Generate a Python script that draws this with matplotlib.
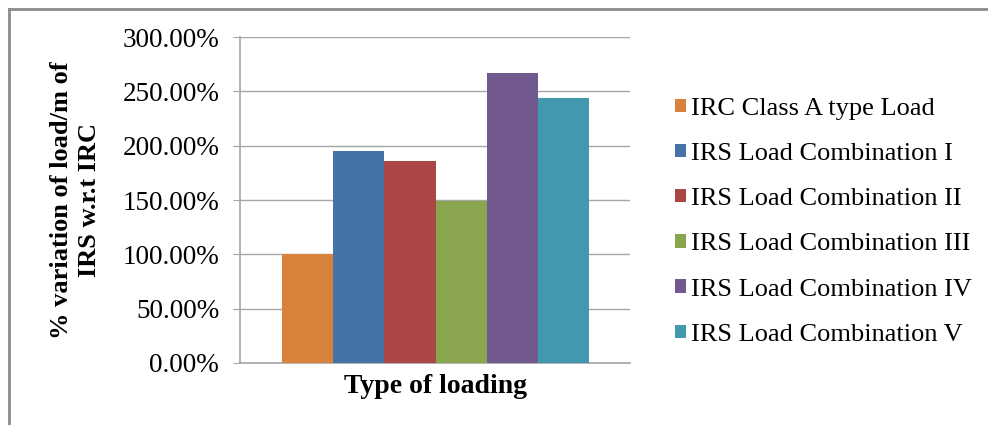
import matplotlib
matplotlib.use("Agg")
from matplotlib import pyplot as plt
from matplotlib.lines import Line2D
from matplotlib.ticker import PercentFormatter

plt.rcParams['font.family'] = ['Liberation Serif', 'DejaVu Serif']

series = ['IRC Class A type Load',
          'IRS Load Combination I',
          'IRS Load Combination II',
          'IRS Load Combination III',
          'IRS Load Combination IV',
          'IRS Load Combination V']
values = [100, 195, 186, 149, 267, 244]
colors = ['#D9823B', '#4572A7', '#AA4643', '#89A54E', '#71588F', '#4198AF']
yticks = [0, 50, 100, 150, 200, 250, 300]

fig = plt.figure(figsize=(9.88, 4.25), dpi=100)
ax = fig.add_axes([0.2429, 0.1459, 0.3948, 0.767])

for i, (name, val, col) in enumerate(zip(series, values, colors)):
    ax.bar(i, val, width=1.0, color=col, label=name, zorder=3)

ax.set_xlim(-1.32, 6.3)
ax.set_ylim(0, 300)
ax.set_yticks(yticks)
ax.yaxis.set_major_formatter(PercentFormatter(decimals=2))
ax.set_xticks([])
ax.grid(axis='y', color='#A6A6A6', linewidth=1.0, zorder=0)

for side in ['top', 'right']:
    ax.spines[side].set_visible(False)
for side in ['left', 'bottom']:
    ax.spines[side].set_color('#A6A6A6')
    ax.spines[side].set_linewidth(1.2)
ax.tick_params(axis='y', length=5, color='#A6A6A6', labelsize=19.5, pad=10)

ax.set_xlabel('Type of loading', fontsize=20, fontweight='bold', labelpad=8)
ax.set_ylabel('% variation of load/m of\nIRS w.r.t IRC', fontsize=19,
              fontweight='bold', labelpad=15, linespacing=1.3)

fig.legend(loc='upper left', bbox_to_anchor=(0.673, 0.795), frameon=False,
           fontsize=19, handlelength=0.4, handleheight=0.4,
           handletextpad=0.2, labelspacing=0.88, borderaxespad=0)

# outer chart-area frame (top and left edges visible)
fig.add_artist(Line2D([0.009, 1.0], [0.979, 0.979], color='#8C8C8C',
                      linewidth=2, transform=fig.transFigure))
fig.add_artist(Line2D([0.009, 0.009], [0.0, 0.979], color='#8C8C8C',
                      linewidth=2, transform=fig.transFigure))

fig.savefig('out.png', dpi=100)
